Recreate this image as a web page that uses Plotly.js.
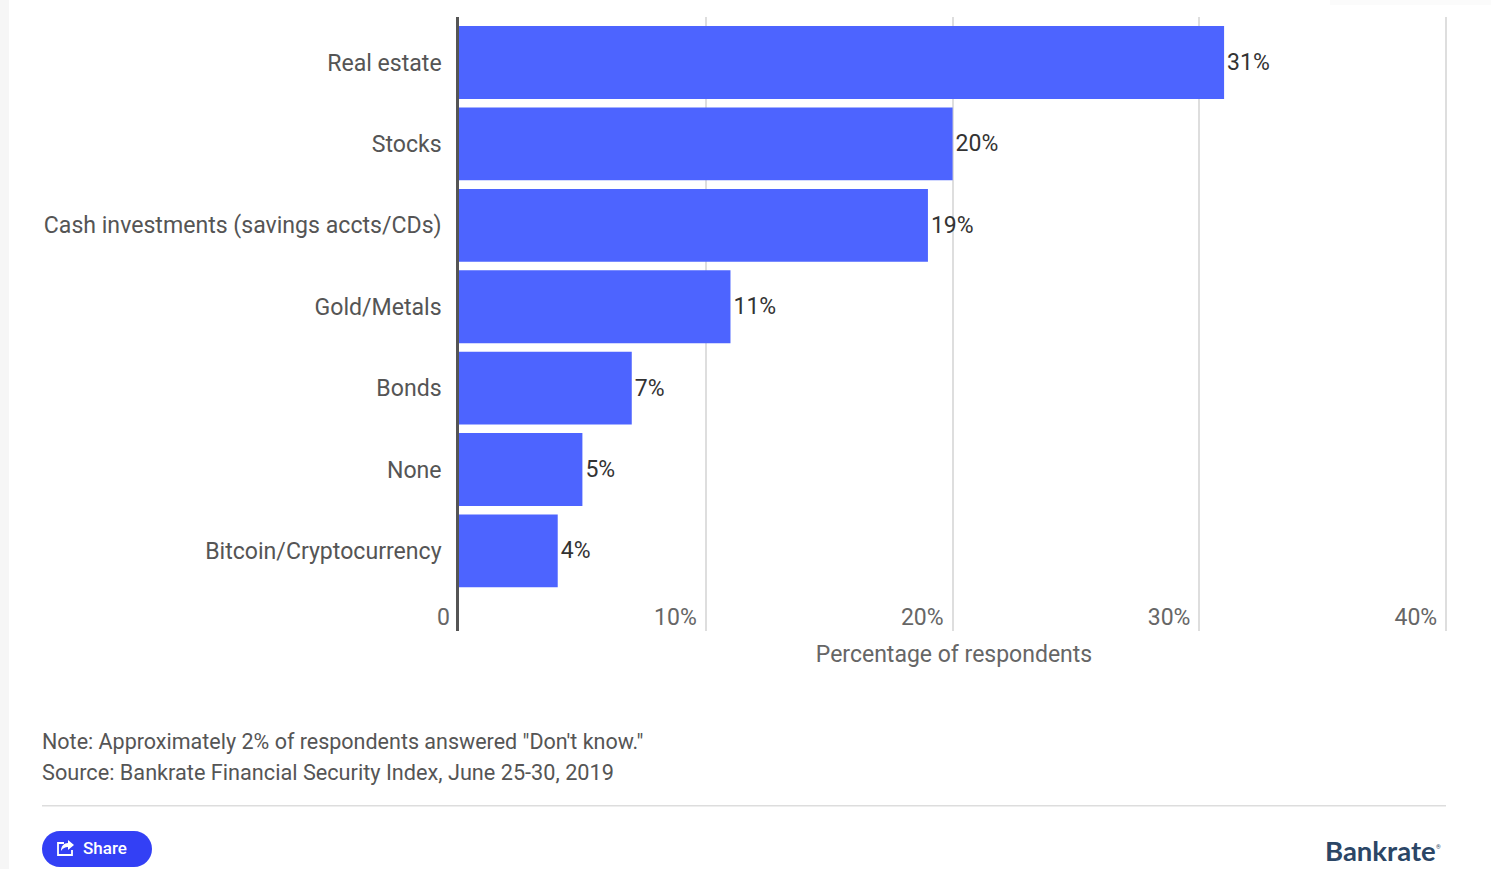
<!DOCTYPE html>
<html>
<head>
<meta charset="utf-8">
<script src="https://cdn.plot.ly/plotly-3.0.1.min.js"></script>
<style>
  html, body { margin: 0; padding: 0; background: #fff; overflow: hidden; }
  #chart { width: 1491px; height: 869px; }
</style>
</head>
<body>
<div id="chart"></div>
<script>
// Survey answers: best place to invest money held for ten years or more
const categories = ["Real estate", "Stocks", "Cash investments (savings accts/CDs)", "Gold/Metals", "Bonds", "None", "Bitcoin/Cryptocurrency"];
const shares = [31, 20, 19, 11, 7, 5, 4];
const xTickValues = [0, 10, 20, 30, 40];
const xTickLabels = ["0", "10%", "20%", "30%", "40%"];
const noteLine = "Note: Approximately 2% of respondents answered \"Don't know.\"";
const sourceLine = "Source: Bankrate Financial Security Index, June 25-30, 2019";

const W = 1491, H = 869;
const M = { l: 459, r: 42, t: 17, b: 238 };
const plotW = W - M.l - M.r, plotH = H - M.t - M.b;
// Paper space spans the plot area, so page pixels are converted relative to it
const px = x => (x - M.l) / plotW;
const py = y => 1 - (y - M.t) / plotH;
const FONT = "Roboto, sans-serif";

const paperPath = d => d.replace(/(-?[\d.]+),(-?[\d.]+)/g, (_, x, y) => px(+x) + "," + py(+y));

const pageShape = (x0, y0, x1, y1, color) => ({
  type: "rect", xref: "paper", yref: "paper", layer: "below",
  x0: px(x0), x1: px(x1), y0: py(y0), y1: py(y1),
  fillcolor: color, line: { width: 0 }
});

const pageText = (text, x, y, xanchor, size, color, weight) => ({
  text, x: px(x), y: py(y), xref: "paper", yref: "paper",
  xanchor, yanchor: "middle", showarrow: false,
  font: { family: FONT, size, color, weight: weight || 400 }
});

const trace = {
  type: "bar",
  orientation: "h",
  y: categories,
  x: shares,
  width: 0.895,
  marker: { color: "#4d64ff", line: { width: 0 } },
  text: shares.map(v => v + "%"),
  textposition: "outside",
  cliponaxis: false,
  textfont: { family: FONT, size: 23, color: "#333333" },
  hoverinfo: "x+y"
};

// Wordmark in the lower right corner
const logo = pageText("Bankrate", 1323, 850, "left", 27.5, "#2b4666", 700);
logo.font.family = "Lato, sans-serif";
const logoMark = pageText("®", 1434, 846, "left", 6, "#2b4666");

const layout = {
  width: W,
  height: H,
  margin: { l: M.l, r: M.r, t: M.t, b: M.b, pad: 0 },
  paper_bgcolor: "#ffffff",
  plot_bgcolor: "#ffffff",
  font: { family: FONT, color: "#555555" },
  showlegend: false,
  xaxis: {
    // Slightly past 40 so the last gridline stays inside the plot area
    range: [0, 40.113],
    tickmode: "array",
    tickvals: xTickValues,
    ticktext: xTickLabels,
    ticklabelposition: "inside left",
    ticklabelshift: -9,
    ticklabelstandoff: -5,
    tickfont: { family: FONT, size: 23, color: "#666666" },
    ticks: "",
    showgrid: true,
    gridcolor: "#dedede",
    gridwidth: 1.5,
    zeroline: false,
    showline: false,
    title: {
      text: "Percentage of respondents",
      font: { family: FONT, size: 23, color: "#666666" },
      standoff: 15
    }
  },
  yaxis: {
    type: "category",
    range: [6.984, -0.559],
    tickfont: { family: FONT, size: 23.1, color: "#555555" },
    ticks: "outside",
    ticklen: 10,
    tickcolor: "rgba(0,0,0,0)",
    showgrid: false,
    zeroline: false,
    showline: true,
    linecolor: "#555555",
    linewidth: 2.5
  },
  shapes: [
    pageShape(0, 0, 9, H, "#f6f6f6"),
    pageShape(1330, 0, W, 5, "#fbfbfb"),
    pageShape(42, 805, 1446, 806.5, "#dddddd"),
    {
      type: "path", xref: "paper", yref: "paper", layer: "above",
      fillcolor: "#3340f5", line: { width: 0 },
      path: paperPath("M 60,831 L 134,831 C 144,831 152,839 152,849 C 152,859 144,867 134,867 L 60,867 C 50,867 42,859 42,849 C 42,839 50,831 60,831 Z")
    },
    {
      // Share icon: open box with an arrow leaving its corner
      type: "path", xref: "paper", yref: "paper", layer: "above",
      line: { color: "#ffffff", width: 1.8 },
      path: paperPath("M 64,843 L 58,843 L 58,855 L 72,855 L 72,850")
    },
    {
      type: "path", xref: "paper", yref: "paper", layer: "above",
      fillcolor: "#ffffff", line: { width: 0 },
      path: paperPath("M 68,840 L 74,845 L 68,850 L 68,847 C 65,847 63,848 61,851 C 61,846 64,843 68,843 Z")
    }
  ],
  annotations: [
    pageText(xTickLabels[0], 452, 617, "right", 23, "#666666"),
    pageText(noteLine, 40, 741, "left", 21.5, "#555555"),
    pageText(sourceLine, 40, 772, "left", 21.7, "#555555"),
    pageText("Share", 81, 848, "left", 17, "#ffffff", 500),
    logo,
    logoMark
  ]
};

Plotly.newPlot("chart", [trace], layout, { displayModeBar: false, responsive: false });
</script>
</body>
</html>
